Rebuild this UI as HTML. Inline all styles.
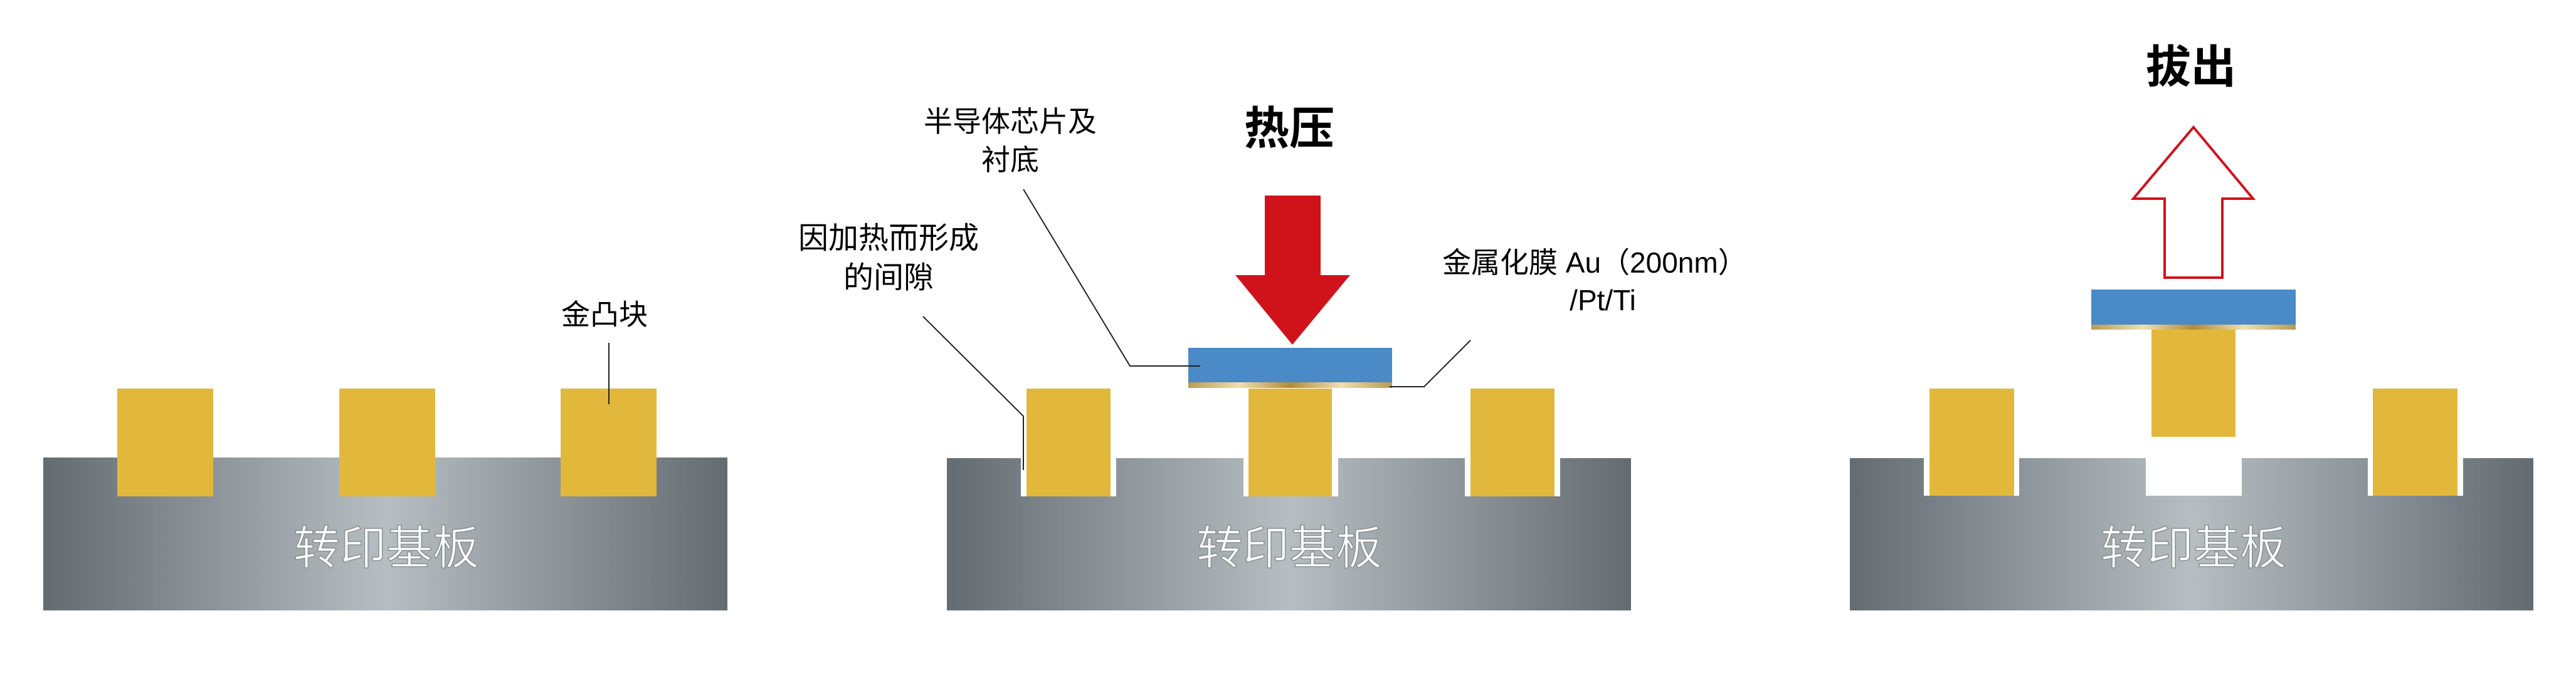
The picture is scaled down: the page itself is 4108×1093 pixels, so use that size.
<!DOCTYPE html>
<html><head><meta charset="utf-8"><style>
html,body{margin:0;padding:0;background:#fff;}
svg{display:block;}
text{font-family:"Liberation Sans","Noto Sans CJK SC",sans-serif;}
</style></head><body>
<svg width="4108" height="1093" viewBox="0 0 4108 1093" xmlns="http://www.w3.org/2000/svg">
<defs>
<linearGradient id="sub" x1="0" x2="1" y1="0" y2="0">
<stop offset="0" stop-color="#646b71"/>
<stop offset="0.5" stop-color="#b7bec2"/>
<stop offset="1" stop-color="#646b71"/>
</linearGradient>
<linearGradient id="film" x1="0" x2="1" y1="0" y2="0">
<stop offset="0" stop-color="#b99a52"/>
<stop offset="0.25" stop-color="#efe0b0"/>
<stop offset="0.5" stop-color="#b48a38"/>
<stop offset="0.75" stop-color="#efe0b0"/>
<stop offset="1" stop-color="#b99a52"/>
</linearGradient>
</defs>

<!-- Panel 1 -->
<rect x="69" y="730" width="1091" height="244" fill="url(#sub)"/>
<rect x="187" y="620" width="153" height="172" fill="#e2b83c"/>
<rect x="541" y="620" width="153" height="172" fill="#e2b83c"/>
<rect x="894" y="620" width="153" height="172" fill="#e2b83c"/>
<text x="616" y="900" font-size="74" fill="#fff" stroke="#8a9094" stroke-width="1.5" text-anchor="middle">转印基板</text>
<text x="964" y="518" font-size="46" fill="#000" text-anchor="middle">金凸块</text>
<line x1="971" y1="547" x2="971" y2="645" stroke="#222" stroke-width="2"/>

<!-- Panel 2 -->
<rect x="1510" y="731" width="1091" height="243" fill="url(#sub)"/>
<rect x="1628" y="731" width="152" height="61" fill="#fff"/>
<rect x="1983" y="731" width="151" height="61" fill="#fff"/>
<rect x="2336" y="731" width="152" height="61" fill="#fff"/>
<rect x="1637" y="620" width="134" height="172" fill="#e2b83c"/>
<rect x="1991" y="620" width="133" height="172" fill="#e2b83c"/>
<rect x="2345" y="620" width="134" height="172" fill="#e2b83c"/>
<rect x="1895" y="555" width="325" height="55" fill="#4a8ac7"/>
<rect x="1895" y="610" width="325" height="9" fill="url(#film)"/>
<polygon points="2017,312 2106,312 2106,439 2153,439 2061,550 1970,439 2017,439" fill="#d0121b"/>
<text x="2056" y="230" font-size="72" font-weight="bold" fill="#000" text-anchor="middle">热压</text>
<text x="1611" y="210" font-size="46" fill="#000" text-anchor="middle">半导体芯片及</text>
<text x="1611" y="271" font-size="46" fill="#000" text-anchor="middle">衬底</text>
<polyline points="1632,302 1802,584 1914,584" fill="none" stroke="#222" stroke-width="2"/>
<text x="1417" y="396" font-size="48" fill="#000" text-anchor="middle">因加热而形成</text>
<text x="1417" y="459" font-size="48" fill="#000" text-anchor="middle">的间隙</text>
<polyline points="1472,505 1632,664 1632,750" fill="none" stroke="#222" stroke-width="2"/>
<text x="2300" y="435" font-size="46" fill="#000">金属化膜 Au（200nm）</text>
<text x="2556" y="495" font-size="46" fill="#000" text-anchor="middle">/Pt/Ti</text>
<polyline points="2345,543 2271,617 2216,617" fill="none" stroke="#222" stroke-width="2"/>
<text x="2056" y="900" font-size="74" fill="#fff" stroke="#8a9094" stroke-width="1.5" text-anchor="middle">转印基板</text>

<!-- Panel 3 -->
<rect x="2950" y="731" width="1090" height="243" fill="url(#sub)"/>
<rect x="3068" y="731" width="152" height="60" fill="#fff"/>
<rect x="3422" y="731" width="153" height="60" fill="#fff"/>
<rect x="3776" y="731" width="152" height="60" fill="#fff"/>
<rect x="3077" y="620" width="135" height="171" fill="#e2b83c"/>
<rect x="3784" y="620" width="135" height="171" fill="#e2b83c"/>
<rect x="3335" y="462" width="326" height="56" fill="#4a8ac7"/>
<rect x="3335" y="518" width="326" height="8" fill="url(#film)"/>
<rect x="3431" y="526" width="134" height="171" fill="#e2b83c"/>
<polygon points="3498,203 3593,317 3544,317 3544,443 3452,443 3452,317 3402,317" fill="#fff" stroke="#d0121b" stroke-width="4"/>
<text x="3494" y="132" font-size="72" font-weight="bold" fill="#000" text-anchor="middle">拔出</text>
<text x="3498" y="900" font-size="74" fill="#fff" stroke="#8a9094" stroke-width="1.5" text-anchor="middle">转印基板</text>
</svg>
</body></html>
